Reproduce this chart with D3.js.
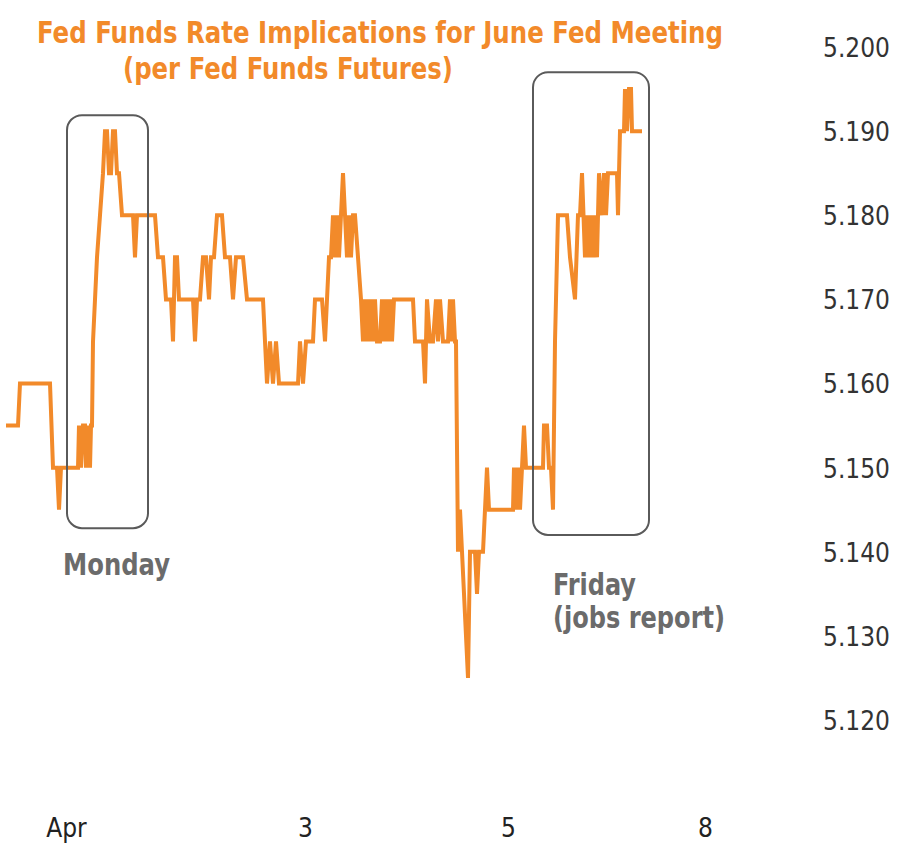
<!DOCTYPE html>
<html>
<head>
<meta charset="utf-8">
<script src="https://cdn.jsdelivr.net/npm/d3@7"></script>
<style>
  body { margin: 0; background: #fff; }
  text { font-family: "DejaVu Sans Condensed", "DejaVu Sans", sans-serif; }
</style>
</head>
<body>
<div id="chart"></div>
<script>
// 15-minute bar index, implied rate
const bars = [1.5, 4.5, 5, 12.5, 13.25, 14.25, 14.75, 15.25, 19.5, 19.75, 20.25, 20.75, 21.25, 21.5, 22, 22.5, 22.75, 23, 23.25, 24.25,
  25, 25.75, 26.25, 26.75, 27.25, 27.75, 28.25, 28.75, 29.25, 29.75, 30.5, 33.25, 33.75, 34.25, 38.75, 39.5, 40.75, 41.5, 42.75, 43.25,
  43.75, 44.25, 44.75, 48.25, 48.75, 49.25, 50, 50.75, 51.5, 52.25, 52.75, 53.5, 54.25, 55.5, 56.25, 57.5, 58.25, 59, 60.75, 61.75,
  65.75, 66.75, 67.5, 68.25, 69, 69.75, 74.5, 75, 75.75, 76.5, 78.25, 78.75, 80.5, 81.25, 81.75, 82.25, 82.75, 83.25, 83.75, 84.25,
  84.75, 85.25, 85.75, 86.25, 86.75, 87.25, 87.75, 88.25, 88.75, 90.25, 90.75, 91, 91.5, 91.75, 92.25, 92.75, 93.25, 93.75, 94.25, 95,
  95.5, 96, 96.5, 97, 97.5, 98, 98.5, 99.25, 103.25, 103.75, 105.75, 106.25, 106.75, 107.5, 108.25, 109, 109.5, 110, 110.75, 112,
  112.5, 113, 113.25, 113.75, 114, 114.5, 115, 115.5, 117, 117.5, 118.75, 119.25, 119.75, 120.75, 121.25, 121.75, 122.25, 128.25, 128.5, 129,
  129.5, 130, 130.5, 131, 131.5, 135.75, 136, 136.75, 137.25, 137.75, 138.25, 138.75, 139.5, 141.75, 142.5, 143.75, 144.5, 145, 145.5,
  146.25, 146.75, 147.25, 147.75, 148.25, 148.75, 149.25, 149.75, 150.5, 151, 151.5, 152, 153.75, 154.25, 154.5, 155, 156, 156.25, 156.75, 157.25,
  157.75, 158, 160.5];

const rates = [5.155, 5.155, 5.160, 5.160, 5.150, 5.150, 5.145, 5.150, 5.150, 5.155, 5.150, 5.155, 5.155, 5.150, 5.155, 5.150, 5.155, 5.155, 5.165, 5.175,
  5.180, 5.185, 5.190, 5.190, 5.185, 5.185, 5.190, 5.190, 5.185, 5.185, 5.180, 5.180, 5.175, 5.180, 5.180, 5.175, 5.175, 5.170, 5.170, 5.165,
  5.175, 5.175, 5.170, 5.170, 5.165, 5.170, 5.170, 5.175, 5.175, 5.170, 5.175, 5.175, 5.180, 5.180, 5.175, 5.175, 5.170, 5.175, 5.175, 5.170,
  5.170, 5.160, 5.165, 5.160, 5.165, 5.160, 5.160, 5.165, 5.160, 5.165, 5.165, 5.170, 5.170, 5.165, 5.170, 5.175, 5.175, 5.180, 5.175, 5.180,
  5.175, 5.180, 5.185, 5.180, 5.175, 5.180, 5.175, 5.180, 5.180, 5.170, 5.165, 5.170, 5.165, 5.170, 5.165, 5.170, 5.165, 5.170, 5.165, 5.165,
  5.170, 5.165, 5.170, 5.165, 5.170, 5.165, 5.170, 5.170, 5.170, 5.165, 5.165, 5.160, 5.170, 5.165, 5.165, 5.170, 5.165, 5.170, 5.165, 5.165,
  5.170, 5.165, 5.170, 5.165, 5.165, 5.140, 5.145, 5.140, 5.125, 5.140, 5.140, 5.135, 5.140, 5.140, 5.145, 5.150, 5.145, 5.145, 5.150, 5.145,
  5.150, 5.145, 5.150, 5.155, 5.150, 5.150, 5.155, 5.155, 5.150, 5.150, 5.145, 5.165, 5.180, 5.180, 5.175, 5.170, 5.180, 5.180, 5.185, 5.175,
  5.180, 5.175, 5.180, 5.175, 5.180, 5.175, 5.185, 5.180, 5.185, 5.180, 5.185, 5.185, 5.185, 5.180, 5.190, 5.190, 5.195, 5.190, 5.195, 5.195,
  5.190, 5.190];

const xTickBars = [16.5, 76.25, 127, 176.25];
const xTickLabels = ["Apr", "3", "5", "8"];
const yTickValues = [5.200, 5.190, 5.180, 5.170, 5.160, 5.150, 5.140, 5.130, 5.120];

const orange = "#f28a2a";
const grey = "#6b6b6b";

const width = 914;
const height = 857;

const svg = d3.select("#chart")
  .append("svg")
  .attr("width", width)
  .attr("height", height);

svg.append("rect")
  .attr("width", width)
  .attr("height", height)
  .attr("fill", "#fff");

const x = d3.scaleLinear().domain([0, 180]).range([0, 720]);
const y = d3.scaleLinear().domain([5.120, 5.200]).range([720, 47]);

// right-hand value axis, labels only
const yAxis = svg.append("g")
  .attr("transform", "translate(890,0)")
  .call(d3.axisRight(y).tickValues(yTickValues).tickFormat(d3.format(".3f")).tickSize(0));
yAxis.select(".domain").remove();
yAxis.selectAll("text")
  .attr("x", 0)
  .attr("text-anchor", "end")
  .attr("dy", "0.36em")
  .attr("fill", "#333")
  .attr("font-size", 26)
  .attr("font-family", "'DejaVu Sans Condensed', 'DejaVu Sans', sans-serif");

const xAxis = svg.append("g")
  .attr("transform", "translate(0,828)")
  .call(d3.axisBottom(x).tickValues(xTickBars).tickFormat((d, i) => xTickLabels[i]).tickSize(0).tickPadding(0));
xAxis.select(".domain").remove();
xAxis.selectAll("text")
  .attr("y", 0)
  .attr("dy", "0.36em")
  .attr("fill", "#222")
  .attr("font-size", 26)
  .attr("font-family", "'DejaVu Sans Condensed', 'DejaVu Sans', sans-serif");

const line = d3.line()
  .x((d, i) => x(bars[i]))
  .y(d => y(d));

svg.append("path")
  .datum(rates)
  .attr("d", line)
  .attr("fill", "none")
  .attr("stroke", orange)
  .attr("stroke-width", 4)
  .attr("stroke-linejoin", "miter")
  .attr("stroke-miterlimit", 6);

// highlight boxes
const boxes = [
  { x0: 16.75, x1: 37, top: 5.1919, bottom: 5.1428 },
  { x0: 133.25, x1: 162.25, top: 5.1970, bottom: 5.1420 }
];

svg.selectAll(".box")
  .data(boxes)
  .enter()
  .append("rect")
  .attr("class", "box")
  .attr("x", d => x(d.x0))
  .attr("y", d => y(d.top))
  .attr("width", d => x(d.x1) - x(d.x0))
  .attr("height", d => y(d.bottom) - y(d.top))
  .attr("rx", 15)
  .attr("fill", "none")
  .attr("stroke", "#5a5a5a")
  .attr("stroke-width", 2);

const label = (txt, px, py, len, size, color) =>
  svg.append("text")
    .text(txt)
    .attr("x", px)
    .attr("y", py)
    .attr("font-size", size)
    .attr("font-weight", "bold")
    .attr("fill", color)
    .attr("textLength", len)
    .attr("lengthAdjust", "spacingAndGlyphs");

label("Fed Funds Rate Implications for June Fed Meeting", 37, 43, 686, 30, orange);
label("(per Fed Funds Futures)", 123, 79, 330, 30, orange);

label("Monday", 63, 575, 107, 30, grey);
label("Friday", 553, 595, 83, 30, grey);
label("(jobs report)", 553, 628, 172, 30, grey);
</script>
</body>
</html>
